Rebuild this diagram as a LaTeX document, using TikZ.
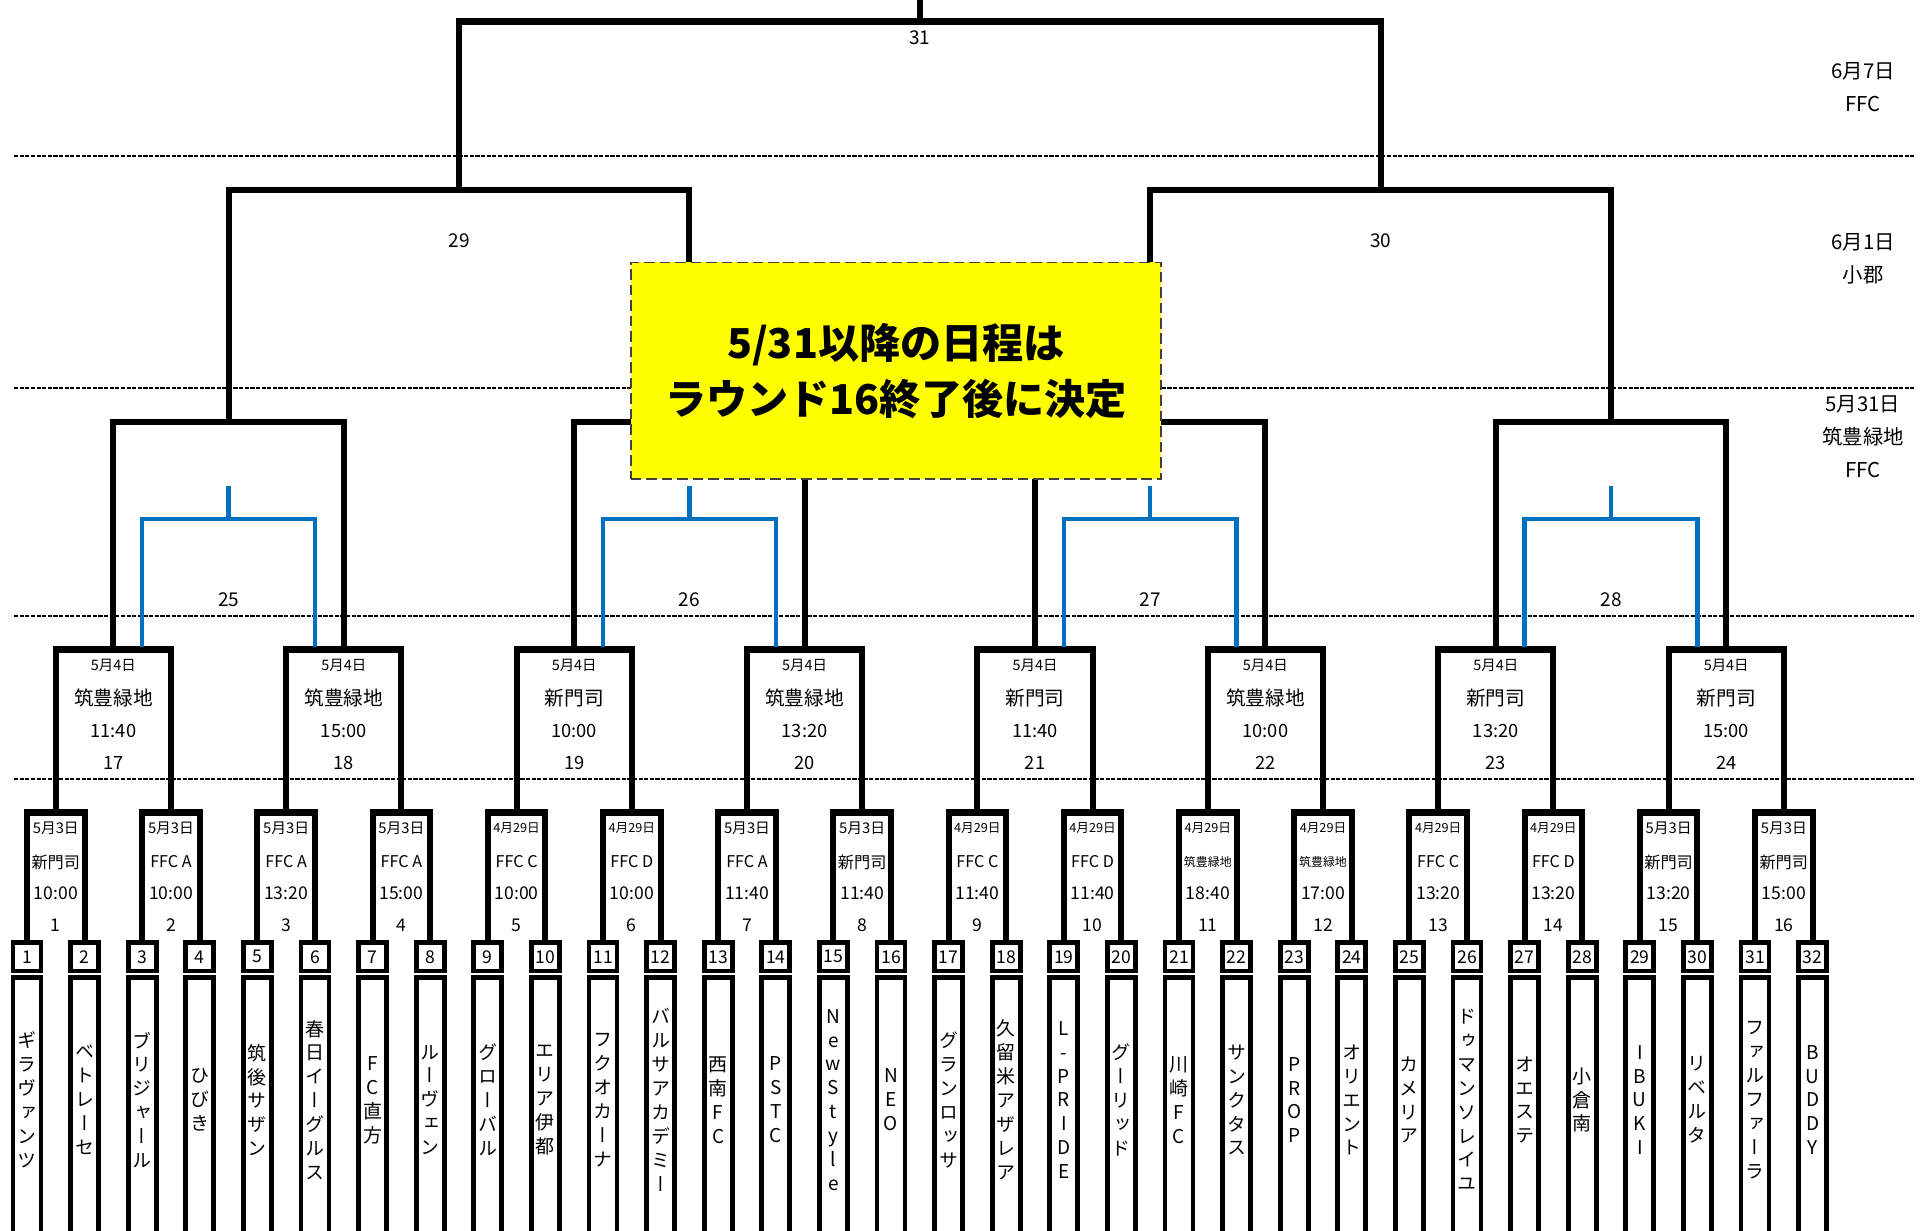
\documentclass[tikz,border=0pt]{standalone}
\usepackage{fontspec}
\setmainfont{Noto Sans CJK JP}
\newfontfamily\tatefont{Noto Sans CJK JP}[RawFeature=+vert]
\usetikzlibrary{calc}
\definecolor{bracketblue}{HTML}{0070C0}
\definecolor{noteyellow}{HTML}{FFFF00}

% stack the characters of a team name one under the other
\ExplSyntaxOn
\seq_new:N \l_tate_seq
\tl_new:N \l_tate_tl
\NewDocumentCommand\tate{m}
  {
    \tl_set:No \l_tate_tl {#1}
    \seq_clear:N \l_tate_seq
    \tl_map_inline:Nn \l_tate_tl { \seq_put_right:Nn \l_tate_seq {##1} }
    \seq_use:Nn \l_tate_seq { \\ }
  }
\ExplSyntaxOff

\newcommand\sdate[1]{{\fontsize{3.6}{4}\selectfont #1}}
\newcommand\svenue[1]{{\fontsize{3.4}{4}\selectfont #1}}

\begin{document}
\begin{tikzpicture}[x=0.01cm,y=-0.01cm,
	bracket/.style={line width=1.75pt,line cap=rect},
	bluebr/.style={line width=1.25pt,draw=bracketblue},
	sepline/.style={line width=0.6pt,dash pattern=on 1.2pt off 0.4pt},
	teamcell/.style={draw,line width=1.4pt,minimum width=0.28cm,minimum height=0.285cm,inner sep=0pt,font=\fontsize{5}{6}\selectfont},
	namecell/.style={draw,line width=1.4pt,minimum width=0.28cm,minimum height=2.67cm,inner sep=0pt},
	teamname/.style={align=center,inner sep=0pt,font=\tatefont\fontsize{5.4}{6.8}\selectfont},
	mdate/.style={inner sep=0pt,font=\fontsize{4.2}{5}\selectfont},
	mvenue/.style={inner sep=0pt,font=\fontsize{4.6}{5}\selectfont},
	mtime/.style={inner sep=0pt,font=\fontsize{5}{6}\selectfont},
	rdate/.style={inner sep=0pt,font=\fontsize{4.1}{5}\selectfont},
	rvenue/.style={inner sep=0pt,font=\fontsize{5.6}{6}\selectfont},
	rtime/.style={inner sep=0pt,font=\fontsize{5.2}{6}\selectfont},
	lbl/.style={inner sep=0pt,font=\fontsize{5.4}{6}\selectfont},
	side/.style={align=center,inner sep=0pt,font=\fontsize{5.8}{9.4}\selectfont},
	notebox/.style={draw=black!75,fill=noteyellow,line width=0.5pt,dash pattern=on 3pt off 1.4pt,
		minimum width=5.3cm,minimum height=2.165cm,align=center,inner sep=0pt,
		font=\bfseries\fontsize{11.7}{15.9}\selectfont}]
	\useasboundingbox (0,0) rectangle (1929,1231);

	% day separators
	\foreach \y in {156,388,616,779}{
		\draw[sepline] (14,\y) -- (1915,\y);
	}

	% teams
	\foreach \tn/\nm in {1/ギラヴァンツ,2/ベトレーセ,3/ブリジャール,4/ひびき,
		5/筑後サザン,6/春日イーグルス,7/FC直方,8/ルーヴェン,9/グローバル,
		10/エリア伊都,11/フクオカーナ,12/バルサアカデミー,13/西南FC,14/PSTC,
		15/NewStyle,16/NEO,17/グランロッサ,18/久留米アザレア,19/L-PRIDE,
		20/グーリッド,21/川崎FC,22/サンクタス,23/PROP,24/オリエント,25/カメリア,
		26/ドゥマンソレイユ,27/オエステ,28/小倉南,29/IBUKI,30/リベルタ,
		31/ファルファーラ,32/BUDDY}{
		\pgfmathsetmacro\tx{27+57.6*(\tn-1)}
		\node[teamcell] (n\tn) at (\tx,956.75) {\tn};
		\node[namecell] (c\tn) at (\tx,1111.5) {};
		\node[teamname] (w\tn) at (\tx,1100) {\tate{\nm}};
	}

	% round 1 (matches 1-16)
	\foreach \mk/\dt/\pl/\tm in {1/5月3日/新門司/10:00,2/5月3日/FFC A/10:00,
		3/5月3日/FFC A/13:20,4/5月3日/FFC A/15:00,5/\sdate{4月29日}/FFC C/10:00,
		6/\sdate{4月29日}/FFC D/10:00,7/5月3日/FFC A/11:40,8/5月3日/新門司/11:40,
		9/\sdate{4月29日}/FFC C/11:40,10/\sdate{4月29日}/FFC D/11:40,
		11/\sdate{4月29日}/\svenue{筑豊緑地}/18:40,12/\sdate{4月29日}/\svenue{筑豊緑地}/17:00,
		13/\sdate{4月29日}/FFC C/13:20,14/\sdate{4月29日}/FFC D/13:20,
		15/5月3日/新門司/13:20,16/5月3日/新門司/15:00}{
		\pgfmathtruncatemacro\lo{2*\mk-1}
		\pgfmathtruncatemacro\hi{2*\mk}
		\pgfmathsetmacro\mx{27+57.6*(2*\mk-1.5)}
		\coordinate (m\mk) at (\mx,812.5);
		\draw[bracket] (n\lo.north) |- (m\mk) -| (n\hi.north);
		\node[mdate] (d\mk) at (\mx,828) {\dt};
		\node[mvenue] (v\mk) at (\mx,862) {\pl};
		\node[mtime] (h\mk) at (\mx,893) {\tm};
		\node[mtime] (g\mk) at (\mx,925) {\mk};
	}

	% round 2 (matches 17-24)
	\foreach \rk/\pl/\tm in {1/筑豊緑地/11:40,2/筑豊緑地/15:00,3/新門司/10:00,
		4/筑豊緑地/13:20,5/新門司/11:40,6/筑豊緑地/10:00,7/新門司/13:20,8/新門司/15:00}{
		\pgfmathtruncatemacro\lo{2*\rk-1}
		\pgfmathtruncatemacro\hi{2*\rk}
		\pgfmathtruncatemacro\gn{16+\rk}
		\pgfmathsetmacro\mx{27+57.6*(4*\rk-2.5)}
		\coordinate (r\gn) at (\mx,649.5);
		\draw[bracket] (m\lo) |- (r\gn) -| (m\hi);
		\node[rdate] (d\gn) at (\mx,665) {5月4日};
		\node[rvenue] (v\gn) at (\mx,698) {\pl};
		\node[rtime] (h\gn) at (\mx,731) {\tm};
		\node[rtime] (g\gn) at (\mx,763) {\gn};
	}

	% round of 16 (25-28), blue: alternative pairing
	\foreach \qk in {1,...,4}{
		\pgfmathtruncatemacro\lo{16+2*\qk-1}
		\pgfmathtruncatemacro\hi{16+2*\qk}
		\pgfmathtruncatemacro\gn{24+\qk}
		\pgfmathsetmacro\mx{27+57.6*(8*\qk-4.5)}
		\coordinate (q\gn) at (\mx,422);
		\coordinate (b\gn) at (\mx,519);
		\draw[bracket] (r\lo) |- (q\gn) -| (r\hi);
		\draw[bluebr] ($(r\lo)+(28.8,-2.5)$) |- (b\gn) -| ($(r\hi)+(-28.8,-2.5)$);
		\draw[bluebr] (b\gn) -- ++(0,-33);
		\node[lbl] (l\gn) at (\mx,600) {\gn};
	}

	% semi-finals (29, 30)
	\foreach \sk in {1,2}{
		\pgfmathtruncatemacro\lo{24+2*\sk-1}
		\pgfmathtruncatemacro\hi{24+2*\sk}
		\pgfmathtruncatemacro\gn{28+\sk}
		\pgfmathsetmacro\mx{27+57.6*(16*\sk-8.5)}
		\coordinate (s\gn) at (\mx,190);
		\draw[bracket] (q\lo) |- (s\gn) -| (q\hi);
		\node[lbl] (l\gn) at (\mx,241) {\gn};
	}

	% final
	\coordinate (f31) at (919.8,21.5);
	\draw[bracket] (s29) |- (f31) -| (s30);
	\draw[bracket] (f31) -- ++(0,-30);
	\node[lbl] (l31) at (919.8,38) {31};

	\node[notebox] (note) at (896,370.75) {5/31以降の日程は\\ラウンド16終了後に決定};

	% dates and grounds
	\node[side] (day1) at (1863,87) {6月7日\\FFC};
	\node[side] (day2) at (1863,258.5) {6月1日\\小郡};
	\node[side] (day3) at (1863,437) {5月31日\\筑豊緑地\\FFC};
\end{tikzpicture}
\end{document}
